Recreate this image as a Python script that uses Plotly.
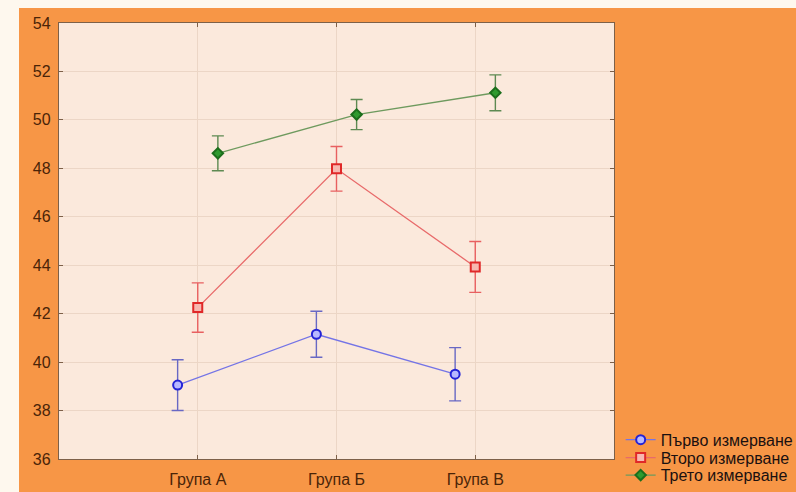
import plotly.graph_objects as go

# Groups and measurement series (means with error-bar half widths)
groups = ["Група А", "Група Б", "Група В"]
series_names = ["Първо измерване", "Второ измерване", "Трето измерване"]
first_mean = [39.05, 41.15, 39.50]
first_err = [1.05, 0.95, 1.10]
second_mean = [42.25, 47.98, 43.93]
second_err = [1.02, 0.92, 1.05]
third_mean = [48.62, 50.22, 51.12]
third_err = [0.72, 0.62, 0.74]
y_ticks = [36, 38, 40, 42, 44, 46, 48, 50, 52, 54]

ORANGE = "#F79646"
CREAM = "#FEF8EE"
PLOT_BG = "#FBE9DC"
FRAME = "#7d6048"
TEXT = "#4a2408"
FONT = "Liberation Sans, Arial, sans-serif"

styles = [
    dict(offset=-0.145, line="#7474e6", mk="circle", mfill="#b8b8ff", medge="#2323d6",
         msize=9, err="#6868c4", legend="legend", ly=0.044),
    dict(offset=0.0, line="#e86a6a", mk="square", mfill="#f7b8b0", medge="#e02828",
         msize=9, err="#e86060", legend="legend2", ly=0.003),
    dict(offset=0.145, line="#6e9a5e", mk="diamond", mfill="#2f9a2f", medge="#1c6e1c",
         msize=8, err="#5e8a52", legend="legend3", ly=-0.037),
]
means = [first_mean, second_mean, third_mean]
errs = [first_err, second_err, third_err]

fig = go.Figure()
for name, m, e, st in zip(series_names, means, errs, styles):
    xs = [i + st["offset"] for i in range(len(groups))]
    fig.add_trace(go.Scatter(
        x=xs, y=m, name=name, mode="lines+markers", legend=st["legend"],
        line=dict(color=st["line"], width=1.3),
        marker=dict(symbol=st["mk"], size=st["msize"], color=st["mfill"],
                    line=dict(color=st["medge"], width=2)),
        error_y=dict(type="data", array=e, visible=True, color=st["err"],
                     thickness=1.4, width=6),
    ))

# Page background strips and the orange panel behind the plot frame
fig.add_shape(type="rect", xref="paper", yref="paper", x0=-0.2, x1=1.5, y0=-0.2, y1=1.2,
              fillcolor=CREAM, line_width=0, layer="below")
fig.add_shape(type="rect", xref="paper", yref="paper", x0=-40 / 555, x1=1.5,
              y0=-0.2, y1=451 / 436, fillcolor=ORANGE, line_width=0, layer="below")
fig.add_shape(type="rect", xref="paper", yref="paper", x0=0, x1=1, y0=0, y1=1,
              fillcolor=PLOT_BG, line_width=0, layer="below")

axis_common = dict(
    showline=True, linecolor=FRAME, linewidth=1.3, mirror="ticks",
    ticks="inside", ticklen=4, tickcolor=FRAME,
    showgrid=True, gridcolor="#ecd6c6", gridwidth=1, zeroline=False,
    tickfont=dict(family=FONT, size=16, color=TEXT),
)
fig.update_xaxes(range=[-1, 3], tickvals=list(range(len(groups))), ticktext=groups,
                 ticklabelstandoff=6, **axis_common)
fig.update_yaxes(range=[36, 54], tickvals=y_ticks, ticklabelstandoff=4, **axis_common)

legend_style = dict(x=1.012, xanchor="left", yanchor="middle",
                    bgcolor="rgba(0,0,0,0)", borderwidth=0,
                    font=dict(family=FONT, size=16, color="#1a1010"),
                    itemwidth=30)
fig.update_layout(
    width=796, height=492,
    margin=dict(l=59, r=182, t=23, b=33, pad=0, autoexpand=False),
    paper_bgcolor=CREAM, plot_bgcolor="rgba(0,0,0,0)",
    showlegend=True,
    legend=dict(y=styles[0]["ly"], **legend_style),
    legend2=dict(y=styles[1]["ly"], **legend_style),
    legend3=dict(y=styles[2]["ly"], **legend_style),
    font=dict(family=FONT),
)

fig.write_html("out.html")
